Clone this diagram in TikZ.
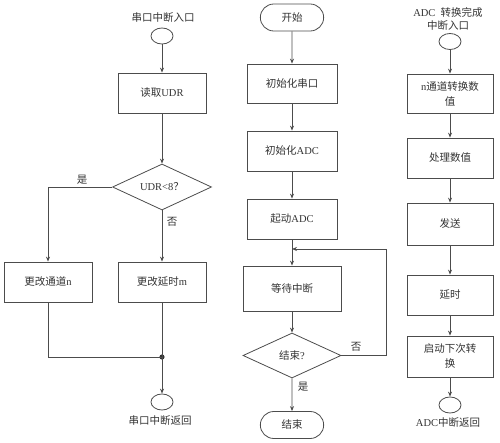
\documentclass[tikz,border=0pt]{standalone}
\usepackage{fontspec}
\setmainfont{Liberation Serif}
\newfontfamily\cjk{Noto Sans CJK SC}
\newcommand\zh[1]{{\cjk #1}}
\usetikzlibrary{shapes.geometric,shapes.misc,arrows.meta}

\def \procboxes {rd/162/93/88/40/\zh{读取}UDR,chn/48/282/88/40/\zh{更改通道}n,chm/162/282/88/40/\zh{更改延时}m,ini1/292/83.5/90/39/\zh{初始化串口},ini2/292/151/90/40/\zh{初始化}ADC,run/292/219/90/40/\zh{起动}ADC,wait/292/288.5/98/45/\zh{等待中断},conv/450/93.5/86/39/n\zh{通道转换数}\\\zh{值},calc/450/158/86/40/\zh{处理数值},send/450/224/86/42/\zh{发送},dly/450/295/86/40/\zh{延时},nxt/450/356.5/86/41/\zh{启动下次转}\\\zh{换}}
\def \portovals {in1/162/36,out1/162/402,in2/450/41.5,out2/450/405}

\begin{document}
\begin{tikzpicture}
   [x=1pt, y=-1pt,
   line/.style={draw=black!70, line width=0.8pt},
   arr/.style={line, -{Stealth[length=5pt,width=4pt]}},
   txt/.style={draw=none, fill=none, text=black!80, align=center, font=\fontsize{10.5}{15}\selectfont},
   proc/.style={txt, line, rectangle, inner sep=2pt},
   dec/.style={txt, line, diamond, inner sep=0pt, aspect=2.2, minimum width=99pt, minimum height=46pt},
   term/.style={txt, line, rounded rectangle, minimum width=70pt, minimum height=27pt},
   port/.style={line, ellipse, inner sep=0pt, minimum width=22pt, minimum height=16pt}]{
\useasboundingbox (0,0) rectangle (500,443);

\foreach \name / \x / \y / \w / \h / \text in \procboxes {
   \node[proc, minimum width=\w pt, minimum height=\h pt] (\name) at (\x,\y) {\text}; }
\foreach \name / \x / \y in \portovals {
   \node[port] (\name) at (\x,\y) {}; }

\node[dec] (udr) at (162,187) {UDR<8\zh{？}};
\node[dec, minimum width=98pt, minimum height=45pt] (fin) at (292,355.5) {\zh{结束}?};
\node[term] (start) at (292,17.5) {\zh{开始}};
\node[term] (stop) at (292,425) {\zh{结束}};

\node[txt] (t1) at (163,18) {\zh{串口中断入口}};
\node[txt] (t2) at (160,421) {\zh{串口中断返回}};
\node[txt, font=\fontsize{10.5}{13}\selectfont] (t3) at (448,19) {ADC\ \ \zh{转换完成}\\\zh{中断入口}};
\node[txt] (t4) at (448,423) {ADC\zh{中断返回}};

% serial interrupt
\fill[black!80] (162,357) circle (2.6pt);
\coordinate (join) at (162,357);
\draw[arr] (in1) -- (rd);
\draw[arr] (rd) -- (udr);
\draw[arr] (udr.west) -| (chn.north);
\draw[arr] (udr.south) -- (chm.north);
\draw[line] (chn.south) |- (join);
\draw[line] (chm.south) -- (join);
\draw[arr] (join) -- (out1);
\node[txt] (yes1) at (82,180) {\zh{是}};
\node[txt] (no1) at (172,222) {\zh{否}};

% main loop
\coordinate (back) at (386,249);
\coordinate (merge) at (292,249);
\draw[arr] (start) -- (ini1);
\draw[arr] (ini1) -- (ini2);
\draw[arr] (ini2) -- (run);
\draw[arr] (run) -- (wait);
\draw[arr] (wait) -- (fin);
\draw[arr] (fin) -- (stop);
\draw[arr] (fin.east) -| (back) -- (merge);
\node[txt] (no2) at (356,347) {\zh{否}};
\node[txt] (yes2) at (303,387) {\zh{是}};

% ADC interrupt
\draw[arr] (in2) -- (conv);
\draw[arr] (conv) -- (calc);
\draw[arr] (calc) -- (send);
\draw[arr] (send) -- (dly);
\draw[arr] (dly) -- (nxt);
\draw[arr] (nxt) -- (out2);
};
\end{tikzpicture}
\end{document}
